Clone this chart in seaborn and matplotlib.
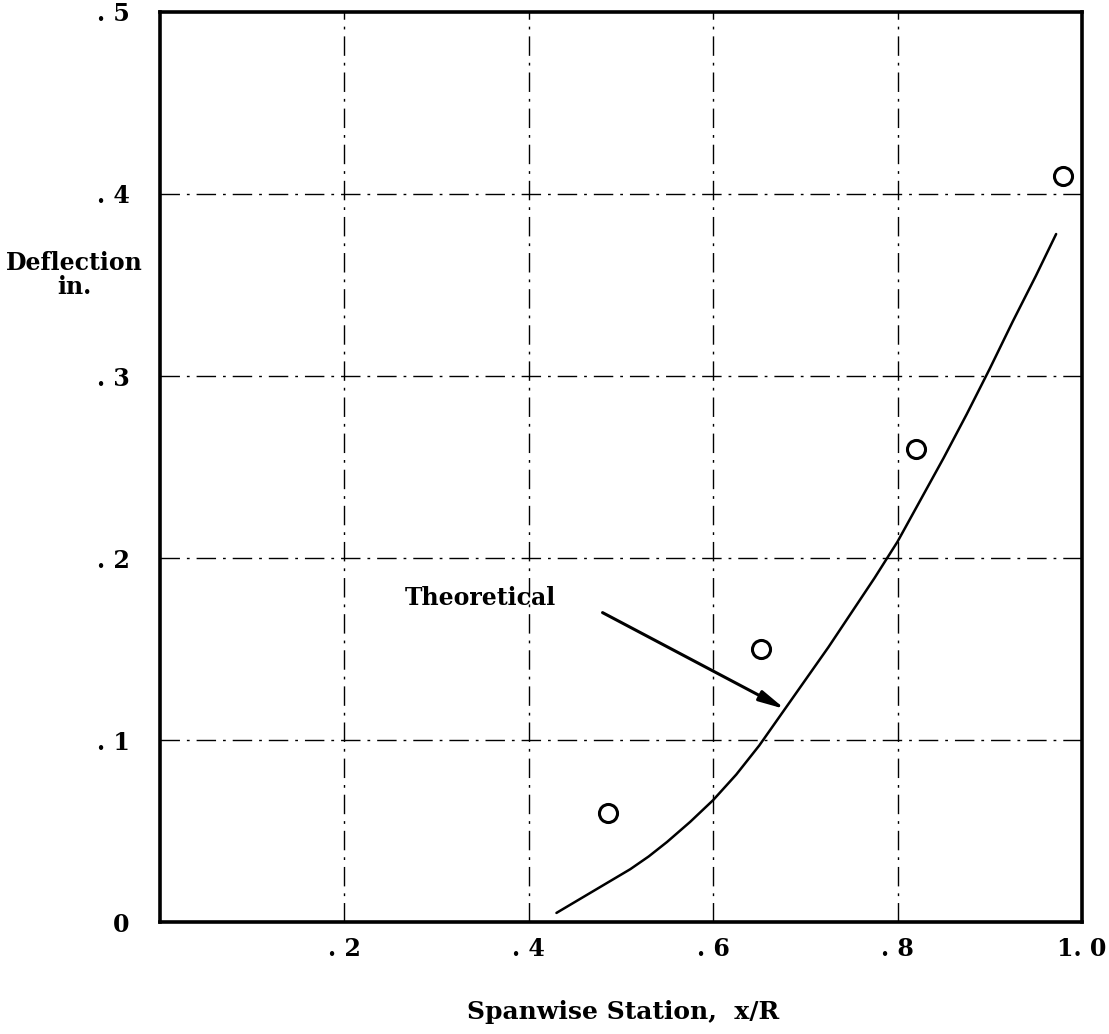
import matplotlib
matplotlib.use("Agg")
import matplotlib.pyplot as plt
import seaborn as sns
import pandas as pd

# Data
theory_x = [0.43, 0.45, 0.47, 0.49, 0.51, 0.53, 0.55, 0.575, 0.60, 0.625, 0.65,
            0.675, 0.70, 0.725, 0.75, 0.775, 0.80, 0.825, 0.85, 0.875, 0.90,
            0.925, 0.95, 0.972]
theory_y = [0.005, 0.011, 0.017, 0.023, 0.029, 0.036, 0.044, 0.055, 0.067, 0.081,
            0.097, 0.115, 0.133, 0.151, 0.170, 0.189, 0.209, 0.232, 0.255, 0.279,
            0.304, 0.330, 0.355, 0.378]
meas_x = [0.486, 0.652, 0.82, 0.979]
meas_y = [0.060, 0.150, 0.260, 0.410]
x_ticks = [0.2, 0.4, 0.6, 0.8, 1.0]
x_tick_labels = [". 2", ". 4", ". 6", ". 8", "1. 0"]
y_ticks = [0.0, 0.1, 0.2, 0.3, 0.4, 0.5]
y_tick_labels = ["0", ". 1", ". 2", ". 3", ". 4", ". 5"]

sns.set_style("white")
plt.rcParams["font.family"] = ["DejaVu Serif"]
plt.rcParams["font.weight"] = "bold"
plt.rcParams["text.color"] = "black"
plt.rcParams["xtick.color"] = "black"
plt.rcParams["ytick.color"] = "black"

fig = plt.figure(figsize=(11.09, 10.34), dpi=100)
ax = fig.add_axes([0.1443, 0.1083, 0.8313, 0.8801])

df_t = pd.DataFrame({"x": theory_x, "y": theory_y})
df_m = pd.DataFrame({"x": meas_x, "y": meas_y})

# gridlines
for gx in [0.2, 0.4, 0.6, 0.8]:
    ax.axvline(gx, color="black", lw=1.0, ls=(0, (14, 5, 2, 5)), zorder=1)
for gy in [0.1, 0.2, 0.3, 0.4]:
    ax.axhline(gy, color="black", lw=1.0, ls=(0, (14, 5, 2, 5)), zorder=1)

sns.lineplot(data=df_t, x="x", y="y", ax=ax, color="black", lw=1.8, sort=True,
             estimator=None, zorder=3)
ax.plot(df_m["x"], df_m["y"], ls="none", marker="o", ms=13, mfc="white",
        mec="black", mew=2.2, zorder=4)

ax.set_xlim(0, 1.0)
ax.set_ylim(0, 0.5)
ax.set_xticks(x_ticks)
ax.set_xticklabels(x_tick_labels, fontsize=17, fontweight="bold", color="black")
ax.set_yticks(y_ticks)
ax.set_yticklabels(y_tick_labels, fontsize=17, fontweight="bold", color="black")
ax.tick_params(axis="x", length=0, pad=11)
ax.tick_params(axis="y", length=0, pad=22)

for s in ax.spines.values():
    s.set_visible(True)
    s.set_color("black")
    s.set_linewidth(2.6)

ax.set_xlabel("")
ax.set_ylabel("")
fig.text(0.562, 0.010, "Spanwise Station,  x/R", ha="center", va="bottom",
         fontsize=18, fontweight="bold", color="black")
fig.text(0.067, 0.734, "Deflection\nin.", ha="center", va="center",
         fontsize=17, fontweight="bold", linespacing=1.0, color="black")

ax.annotate("Theoretical", xy=(0.676, 0.118), xytext=(0.265, 0.178),
            textcoords="data", fontsize=17, fontweight="bold",
            ha="left", va="center", color="black")
ax.annotate("", xy=(0.678, 0.117), xytext=(0.48, 0.170),
            arrowprops=dict(arrowstyle="-|>,head_width=0.15,head_length=0.7",
                            color="black", lw=2.2, mutation_scale=22,
                            shrinkA=0, shrinkB=0))

fig.savefig("out.png", dpi=100)
